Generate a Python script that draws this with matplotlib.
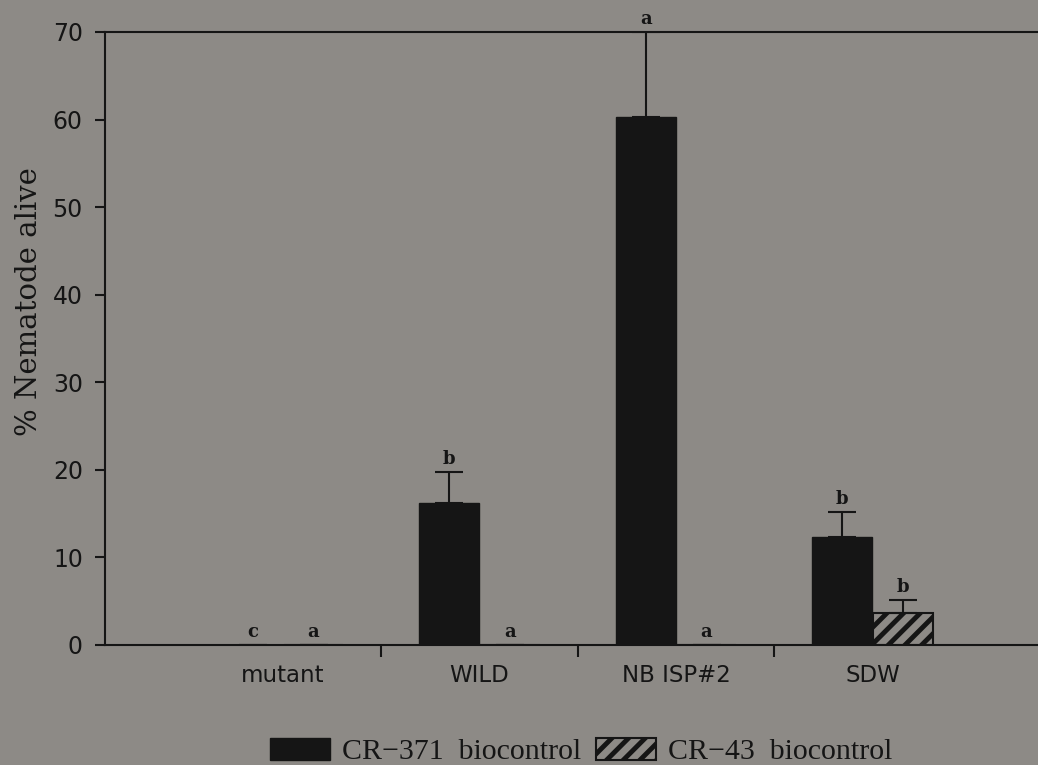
import matplotlib.pyplot as plt
import numpy as np

# nematode survival per treatment, two biocontrol strains
categories = ["mutant", "WILD", "NB ISP#2", "SDW"]
cr371_vals = [0.0, 16.2, 60.3, 12.3]
cr371_err = [0.0, 3.5, 9.7, 2.9]
cr43_vals = [0.0, 0.0, 0.0, 3.6]
cr43_err = [0.0, 0.0, 0.0, 1.5]
cr371_letters = ["c", "b", "a", "b"]
cr43_letters = ["a", "a", "a", "b"]

bg = "#8d8a86"
ink = "#151515"

plt.rcParams["hatch.linewidth"] = 3.5
plt.rcParams["hatch.color"] = ink

fig = plt.figure(figsize=(10.38, 7.65), dpi=100, facecolor=bg)
ax = fig.add_axes([0.1012, 0.1569, 0.8988, 0.8013], facecolor=bg)

x = np.arange(len(categories))
w = 0.305
off = 0.155

ax.bar(x - off, cr371_vals, w, color=ink, edgecolor=ink, label="CR\u2212371  biocontrol", zorder=2)
ax.bar(x + off, cr43_vals, w, color=bg, edgecolor=ink, hatch="//", linewidth=1.5,
       label="CR\u221243  biocontrol", zorder=2)

# upper error bars only
ax.errorbar(x - off, cr371_vals, yerr=[np.zeros(4), cr371_err], fmt="none",
            ecolor=ink, elinewidth=1.5, capsize=10, capthick=1.5, zorder=3)
ax.errorbar(x + off, cr43_vals, yerr=[np.zeros(4), cr43_err], fmt="none",
            ecolor=ink, elinewidth=1.5, capsize=10, capthick=1.5, zorder=3)

# significance letters above each bar
for i in range(len(categories)):
    ax.annotate(cr371_letters[i], (x[i] - off, cr371_vals[i] + cr371_err[i]),
                xytext=(0, 3), textcoords="offset points", ha="center", va="bottom",
                family="DejaVu Serif", fontweight="bold", fontsize=13, color=ink)
    ax.annotate(cr43_letters[i], (x[i] + off, cr43_vals[i] + cr43_err[i]),
                xytext=(0, 3), textcoords="offset points", ha="center", va="bottom",
                family="DejaVu Serif", fontweight="bold", fontsize=13, color=ink)

ax.set_xlim(-0.906, 3.842)
ax.set_ylim(0, 70)

ax.spines["right"].set_visible(False)
for s in ["left", "bottom", "top"]:
    ax.spines[s].set_color(ink)
    ax.spines[s].set_linewidth(1.5)

ax.set_yticks(np.arange(0, 71, 10))
ax.tick_params(axis="y", direction="out", length=7, width=1.5, color=ink,
               labelsize=17, labelcolor=ink, pad=9)

# group dividers as major ticks, names as unmarked minor ticks
ax.set_xticks(x[:-1] + 0.5)
ax.set_xticklabels([])
ax.tick_params(axis="x", which="major", direction="out", length=8.5, width=1.5, color=ink)
ax.set_xticks(x, minor=True)
ax.set_xticklabels(categories, minor=True)
ax.tick_params(axis="x", which="minor", length=0, labelsize=16.5, labelcolor=ink, pad=14)

ax.set_ylabel("% Nematode alive", family="DejaVu Serif", fontsize=21, color=ink)
ax.yaxis.set_label_coords(-0.066, 0.561)

fig.legend(loc="lower center", bbox_to_anchor=(0.560, -0.024), ncol=2, frameon=False,
           prop={"family": "Liberation Serif", "size": 21.5}, labelcolor=ink,
           handlelength=2.0, handleheight=0.74, handletextpad=0.4, columnspacing=0.5,
           borderpad=0.1)

fig.savefig("out.png", dpi=100, facecolor=bg)
